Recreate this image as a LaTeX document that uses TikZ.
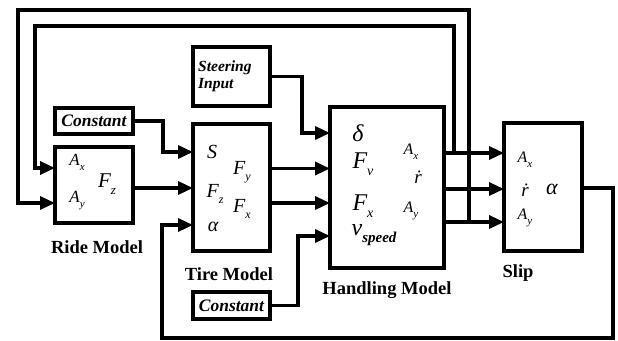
\documentclass[tikz,border=0pt]{standalone}
\usepackage{fontspec}
\setmainfont{Liberation Serif}
\usetikzlibrary{arrows.meta,calc}
\newcommand\dn[2]{\raisebox{-0.3em}{\fontsize{#1}{#1}\selectfont #2}}
\begin{document}
\begin{tikzpicture}[x=1pt,y=-1pt,
  blk/.style={draw,line width=3.8pt,inner sep=0pt},
  conn/.style={line width=3.3pt},
  arr/.style={conn,-{Triangle[length=15pt,width=13pt]}},
  lbl/.style={inner sep=0pt,font=\fontsize{18.5}{18.5}\selectfont\bfseries},
  cst/.style={font=\fontsize{17.5}{17.5}\selectfont\bfseries\itshape},
  sym/.style={inner sep=0pt,font=\itshape},
  fs/.style={font=\fontsize{#1}{#1}\selectfont\itshape}]
\useasboundingbox (0,0) rectangle (618,340);

% blocks
\node[blk,minimum width=78pt,minimum height=76pt] (ride) at (94,185) {};
\node[blk,cst,minimum width=78pt,minimum height=26pt] (c1) at (94,121) {Constant};
\node[blk,minimum width=77pt,minimum height=59pt] (steer) at (231.5,76.5) {};
\node[inner sep=0pt,anchor=west,align=left,font=\fontsize{15.5}{17}\selectfont\bfseries\itshape] (steertxt) at (198,76) {Steering\\Input};
\node[blk,minimum width=77pt,minimum height=127pt] (tire) at (231.5,187.5) {};
\node[blk,cst,minimum width=77pt,minimum height=27pt] (c2) at (231.5,305.5) {Constant};
\node[blk,minimum width=114pt,minimum height=161pt] (hand) at (387,187.5) {};
\node[blk,minimum width=78pt,minimum height=128pt] (slip) at (543,187) {};

% labels
\node[lbl] (ridel) at (97,247) {Ride Model};
\node[lbl] (tirel) at (229,274) {Tire Model};
\node[lbl] (handl) at (387,290) {Handling Model};
\node[lbl] (slipl) at (518,273) {Slip};

% ride symbols
\node[sym,fs=17] (rax) at (77,162) {A\dn{11}{x}};
\node[sym,fs=17] (ray) at (77,201) {A\dn{11}{y}};
\node[sym,fs=21] (rfz) at (107,184) {F\dn{13}{z}};
% tire symbols
\node[sym,fs=20] (ts) at (212,152) {S};
\node[sym,fs=20] (tfy) at (242,172) {F\dn{12}{y}};
\node[sym,fs=20] (tfz) at (215,194) {F\dn{12}{z}};
\node[sym,fs=20] (tfx) at (242,209) {F\dn{12}{x}};
\node[sym,fs=20] (tal) at (213,227) {α};
% handling symbols
\node[sym,fs=24] (hd) at (358,133) {δ};
\node[sym,fs=24] (hfv) at (363,164) {F\dn{14}{v}};
\node[sym,fs=16] (hax) at (411,152) {A\dn{11}{x}};
\node[sym,fs=19] (hr) at (418,177) {ṙ};
\node[sym,fs=24] (hfx) at (363,206) {F\dn{14}{x}};
\node[sym,fs=16] (hay) at (411,211) {A\dn{11}{y}};
\node[sym,fs=24] (hv) at (374,235) {v\dn{15}{\bfseries speed}};
% slip symbols
\node[sym,fs=16] (sax) at (525,160) {A\dn{11}{x}};
\node[sym,fs=19] (sr) at (525,190) {ṙ};
\node[sym,fs=22] (sal) at (552,189) {α};
\node[sym,fs=16] (say) at (525,218) {A\dn{11}{y}};

% ports
\coordinate (rAx) at (55,168);
\coordinate (rAy) at (55,203);
\coordinate (rO) at (133,188);
\coordinate (tS) at (193,152);
\coordinate (tF) at (193,188);
\coordinate (tA) at (193,225);
\coordinate (tOy) at (270,168.5);
\coordinate (tOx) at (270,203);
\coordinate (hD) at (330,133);
\coordinate (hFv) at (330,168.5);
\coordinate (hFx) at (330,203);
\coordinate (hV) at (330,236);
\coordinate (hAx) at (444,153);
\coordinate (hR) at (444,189);
\coordinate (hAy) at (444,222);
\coordinate (sAx) at (504,153);
\coordinate (sR) at (504,189);
\coordinate (sAy) at (504,222);
\coordinate (sO) at (582,188);
\coordinate (j1) at (454,153);
\coordinate (j2) at (469,222);

% connectors
\draw[arr] (c1.east) -| (163,152) -- (tS);
\draw[arr] (steer.east) -| (302,133) -- (hD);
\draw[arr] (c2.east) -| (298,236) -- (hV);
\draw[arr] (rO) -- (tF);
\draw[arr] (tOy) -- (hFv);
\draw[arr] (tOx) -- (hFx);
\draw[arr] (hAx) -- (sAx);
\draw[arr] (hR) -- (sR);
\draw[arr] (hAy) -- (sAy);
\draw[arr] (j1) |- (35,26) |- (rAx);
\draw[arr] (j2) |- (18,10) |- (rAy);
\draw[arr] (sO) -| (613,338) -| (162,225) -- (tA);
\end{tikzpicture}
\end{document}
